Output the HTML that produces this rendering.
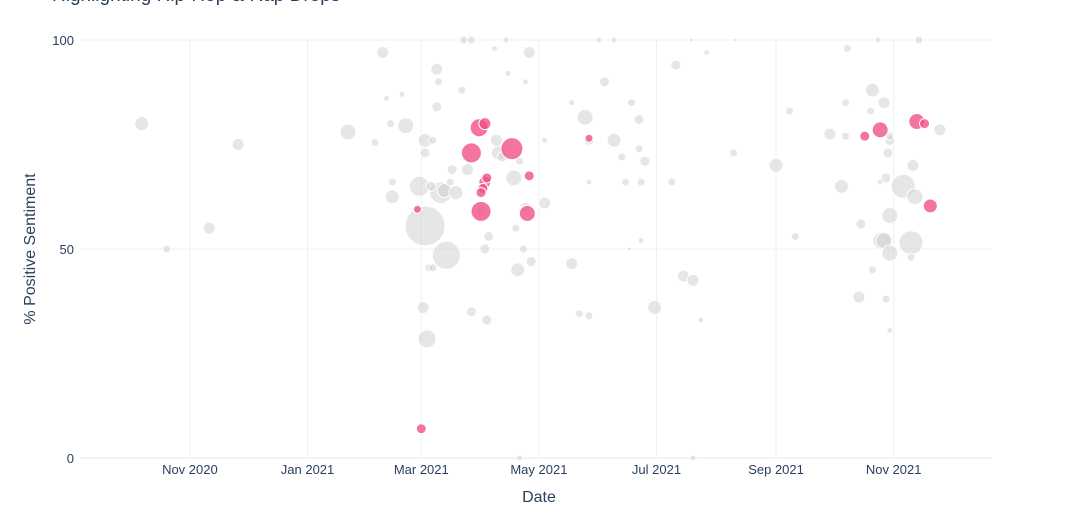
<!DOCTYPE html>
<html><head><meta charset="utf-8">
<style>
body{margin:0;background:#fff;}
svg{display:block;font-family:"Liberation Sans",sans-serif;}
</style></head>
<body>
<svg id="chart" width="1080" height="516">
<text x="52" y="1" font-size="19" fill="#2a3f5f">Highlighting Hip-Hop &amp; Rap Drops</text>
<g id="grid"></g>
<g id="grayg"></g>
<g id="pinkg"></g>
<g id="axes"></g>
<text x="539" y="502" font-size="16" fill="#2a3f5f" text-anchor="middle">Date</text>
<text transform="translate(35,249) rotate(-90)" font-size="16" fill="#2a3f5f" text-anchor="middle">% Positive Sentiment</text>
</svg>
<script>
const xTickDates=["2020-11-01","2021-01-01","2021-03-01","2021-05-01","2021-07-01","2021-09-01","2021-11-01"];
const xTickLabels=["Nov 2020","Jan 2021","Mar 2021","May 2021","Jul 2021","Sep 2021","Nov 2021"];
const yTicks=[0,50,100];
const grayDates=["2020-10-07","2020-10-20","2020-11-11","2020-11-26","2021-01-22","2021-02-09","2021-02-05","2021-02-11","2021-02-13","2021-02-14","2021-02-14","2021-02-19","2021-02-21","2021-02-28","2021-03-03","2021-03-03","2021-03-03","2021-03-02","2021-03-04","2021-03-05","2021-03-07","2021-03-09","2021-03-10","2021-03-09","2021-03-11","2021-03-14","2021-03-07","2021-03-06","2021-03-13","2021-03-19","2021-03-16","2021-03-17","2021-03-23","2021-03-27","2021-03-22","2021-03-27","2021-04-04","2021-03-25","2021-04-03","2021-04-05","2021-04-01","2021-04-08","2021-04-14","2021-04-15","2021-04-19","2021-04-20","2021-04-23","2021-04-21","2021-04-26","2021-04-27","2021-04-24","2021-04-18","2021-04-10","2021-04-09","2021-04-12","2021-04-24","2021-04-21","2021-05-04","2021-05-04","2021-05-18","2021-05-22","2021-05-27","2021-05-25","2021-05-27","2021-05-27","2021-05-18","2021-06-01","2021-06-04","2021-06-09","2021-06-09","2021-06-13","2021-06-15","2021-06-18","2021-06-22","2021-06-22","2021-06-25","2021-06-23","2021-06-23","2021-06-17","2021-06-30","2021-07-11","2021-07-09","2021-07-15","2021-07-20","2021-07-24","2021-07-19","2021-07-27","2021-07-20","2021-08-11","2021-08-10","2021-09-01","2021-09-08","2021-09-11","2021-10-05","2021-09-29","2021-10-07","2021-10-08","2021-10-07","2021-10-15","2021-10-14","2021-10-21","2021-10-21","2021-10-20","2021-10-24","2021-10-26","2021-10-27","2021-10-27","2021-10-30","2021-10-29","2021-10-30","2021-10-30","2021-10-28","2021-10-30","2021-10-28","2021-10-25","2021-11-06","2021-11-10","2021-11-12","2021-11-11","2021-11-10","2021-11-14","2021-11-25","2021-10-30"];
const grayValues=[80,50,55,75,78,97,75.5,86,80,62.5,66,87,79.5,65,55.5,76,73,36,28.5,45.5,76,93,90,84,63.5,48.5,45.5,65,64,63.5,66,69,100,100,88,35,33,69,50,53,59,98,100,92,55,45,50,0,97,47,90,67,73,76,72,60,71,61,76,46.5,34.5,34,81.5,76,66,85,100,90,100,76,72,66,85,81,74,71,66,52,50,36,94,66,43.5,42.5,33,100,97,0,100,73,70,83,53,65,77.5,85,98,77,56,38.5,88,45,83,100,52,52,85,76,73,58,49,38,30.5,67,66,65,51.5,62.5,70,48,100,78.5,77];
const graySizes=[7,4,6,6,8,6,4,3,4,7,4,3,8,10,20,7,5,6,9,4,4,6,4,5,11,14,4,5,7,7,4,5,4,4,4,5,5,6,5,5,5,3,3,3,4,7,4,3,6,5,3,8,7,6,5,5,4,6,3,6,4,4,8,5,3,3,3,5,3,7,4,4,4,5,4,5,4,3,2,7,5,4,6,6,3,2,3,3,2,4,7,4,4,7,6,4,4,4,5,6,7,4,4,3,9,8,6,5,5,8,8,4,3,5,3,12,12,8,6,4,4,6,4];
const pinkDates=["2021-03-01","2021-02-27","2021-03-27","2021-03-31","2021-04-03","2021-04-01","2021-04-03","2021-04-04","2021-04-02","2021-04-01","2021-04-17","2021-04-25","2021-04-26","2021-05-27","2021-10-17","2021-10-25","2021-11-13","2021-11-17","2021-11-20"];
const pinkValues=[7,59.5,73,79,80,59,66,67,64.5,63.5,74,58.5,67.5,76.5,77,78.5,80.5,80,60.3];
const pinkSizes=[5,4,10,9,6,10,6,5,5,5,11,8,5,4,5,8,8,5,7];

const NS="http://www.w3.org/2000/svg";
const X0=80,X1=992,Y0=458,Y1=40;
const D0=Date.parse("2020-09-05"),D1=Date.parse("2021-12-22");
function xs(d){return X0+(Date.parse(d)-D0)/(D1-D0)*(X1-X0);}
function ys(v){return Y0-(v/100)*(Y0-Y1);}
function mk(tag,attrs,parent){const e=document.createElementNS(NS,tag);for(const k in attrs)e.setAttribute(k,attrs[k]);parent.appendChild(e);return e;}
const grid=document.getElementById('grid'),axes=document.getElementById('axes');
yTicks.forEach((v,i)=>{
  const l=mk('line',{x1:X0,x2:X1,y1:ys(v),y2:ys(v),stroke:v===0?'#dfe6f0':'#ebf0f8','stroke-width':1},grid);
  
  
  const t=mk('text',{x:X0-6,y:ys(v)+5,'font-size':13,fill:'#2a3f5f','text-anchor':'end'},axes);
  t.textContent=String(v);
  
  
});
xTickDates.forEach((d,i)=>{
  const x=xs(d);
  const l=mk('line',{x1:x,x2:x,y1:Y1,y2:Y0,stroke:'#ebf0f8','stroke-width':1},grid);
  
  
  const t=mk('text',{x:x,y:Y0+16,'font-size':13,fill:'#2a3f5f','text-anchor':'middle'},axes);
  t.textContent=xTickLabels[i];
  
  
});
const gg=document.getElementById('grayg');
grayDates.forEach((d,i)=>{
  const c=mk('circle',{cx:xs(d),cy:ys(grayValues[i]),r:graySizes[i],fill:'rgb(205,205,205)','fill-opacity':0.5,stroke:'#fff','stroke-width':1},gg);
  
  
});
const pg=document.getElementById('pinkg');
pinkDates.forEach((d,i)=>{
  const c=mk('circle',{cx:xs(d),cy:ys(pinkValues[i]),r:pinkSizes[i],fill:'rgb(240,80,138)','fill-opacity':0.8,stroke:'#fff','stroke-width':1},pg);
  
  
});
</script>
</body></html>
